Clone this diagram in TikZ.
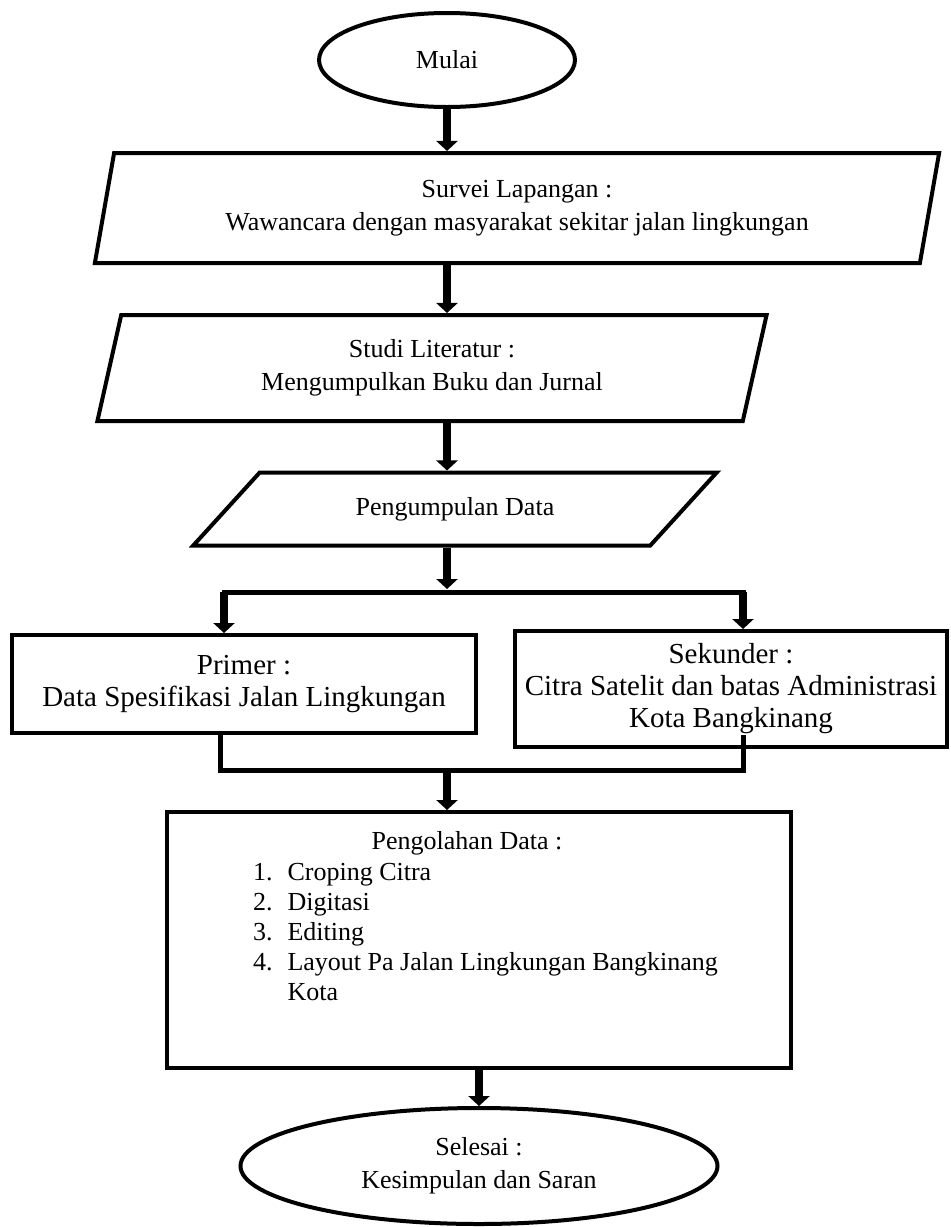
\documentclass[tikz,border=0pt]{standalone}
\usepackage{fontspec}
\setmainfont{Liberation Serif}
\usetikzlibrary{shapes.geometric,arrows.meta}

\begin{document}
\begin{tikzpicture}[
  x=0.5pt,y=-0.5pt,
  terminal/.style={draw,ellipse,line width=2pt,inner sep=0pt},
  data/.style={draw,trapezium,trapezium stretches=true,line width=2pt,inner sep=0pt},
  process/.style={draw,rectangle,line width=2pt,inner sep=0pt},
  flow/.style={line width=4pt,-{Triangle[width=10.5pt,length=5pt]}},
  link/.style={line width=2.5pt,line cap=rect},
  big/.style={font=\fontsize{14.5}{16}\selectfont},
  every node/.append style={align=center,font=\fontsize{13}{16.5}\selectfont}
]
  \useasboundingbox (0,0) rectangle (951,1227);
  \node[terminal,minimum width=128pt,minimum height=47pt] (mulai) at (447,60) {Mulai};
  \node[data,trapezium left angle=76,trapezium right angle=104,minimum width=423pt,minimum height=55pt] (survei) at (517,208) {Survei Lapangan :\\Wawancara dengan masyarakat sekitar jalan lingkungan};
  \node[data,trapezium left angle=77,trapezium right angle=103,minimum width=335pt,minimum height=53pt] (studi) at (432,368) {Studi Literatur :\\Mengumpulkan Buku dan Jurnal};
  \node[data,trapezium left angle=35,trapezium right angle=145,minimum width=262pt,minimum height=36.5pt] (kumpul) at (455,509) {Pengumpulan Data};
  \node[process,big,minimum width=232pt,minimum height=49pt] (primer) at (244,684) {Primer :\\Data Spesifikasi Jalan Lingkungan};
  \node[process,big,minimum width=216pt,minimum height=58pt] (sekunder) at (731,689) {Sekunder :\\Citra Satelit dan batas Administrasi\\Kota Bangkinang};
  \node[process,minimum width=312pt,minimum height=128pt] (pengolahan) at (479,940) {};
  \node (olahjudul) at (467,843) {Pengolahan Data :};
  \node[anchor=north west,align=left,font=\fontsize{13}{15}\selectfont] (olahdaftar) at (246,852) {\begin{tabular}{@{}l@{\hspace{7.5pt}}l@{}}1.&Croping Citra\\2.&Digitasi\\3.&Editing\\4.&Layout Pa Jalan Lingkungan Bangkinang\\&Kota\end{tabular}};
  \node[terminal,minimum width=238.5pt,minimum height=58pt] (selesai) at (479,1166) {Selesai :\\Kesimpulan dan Saran};

  \coordinate (pecah) at (447,589);
  \coordinate (celahkiri) at (461,592);
  \coordinate (celahkanan) at (465,592);
  \coordinate (cabangkiri) at (224,592);
  \coordinate (cabangkanan) at (743,592);
  \coordinate (gabungkiri) at (220,770);
  \coordinate (gabungkanan) at (743,770);
  \coordinate (ujungsekunder) at (743,737);

  \draw[flow] (mulai) -- (mulai |- survei.north);
  \draw[flow] (mulai |- survei.south) -- (mulai |- studi.north);
  \draw[flow] (mulai |- studi.south) -- (mulai |- kumpul.north);
  \draw[flow] (mulai |- kumpul.south) -- (mulai |- pecah);
  \draw[link] (celahkiri) -- (cabangkiri);
  \draw[link] (celahkanan) -- (cabangkanan);
  \draw[flow] (cabangkiri) -- (cabangkiri |- primer.north);
  \draw[flow] (cabangkanan) -- (cabangkanan |- sekunder.north);
  \draw[link] (primer.south -| gabungkiri) -- (gabungkiri) -- (gabungkanan) -- (ujungsekunder);
  \draw[flow] (mulai |- gabungkiri) -- (mulai |- pengolahan.north);
  \draw[flow] (pengolahan) -- (selesai);
\end{tikzpicture}
\end{document}
